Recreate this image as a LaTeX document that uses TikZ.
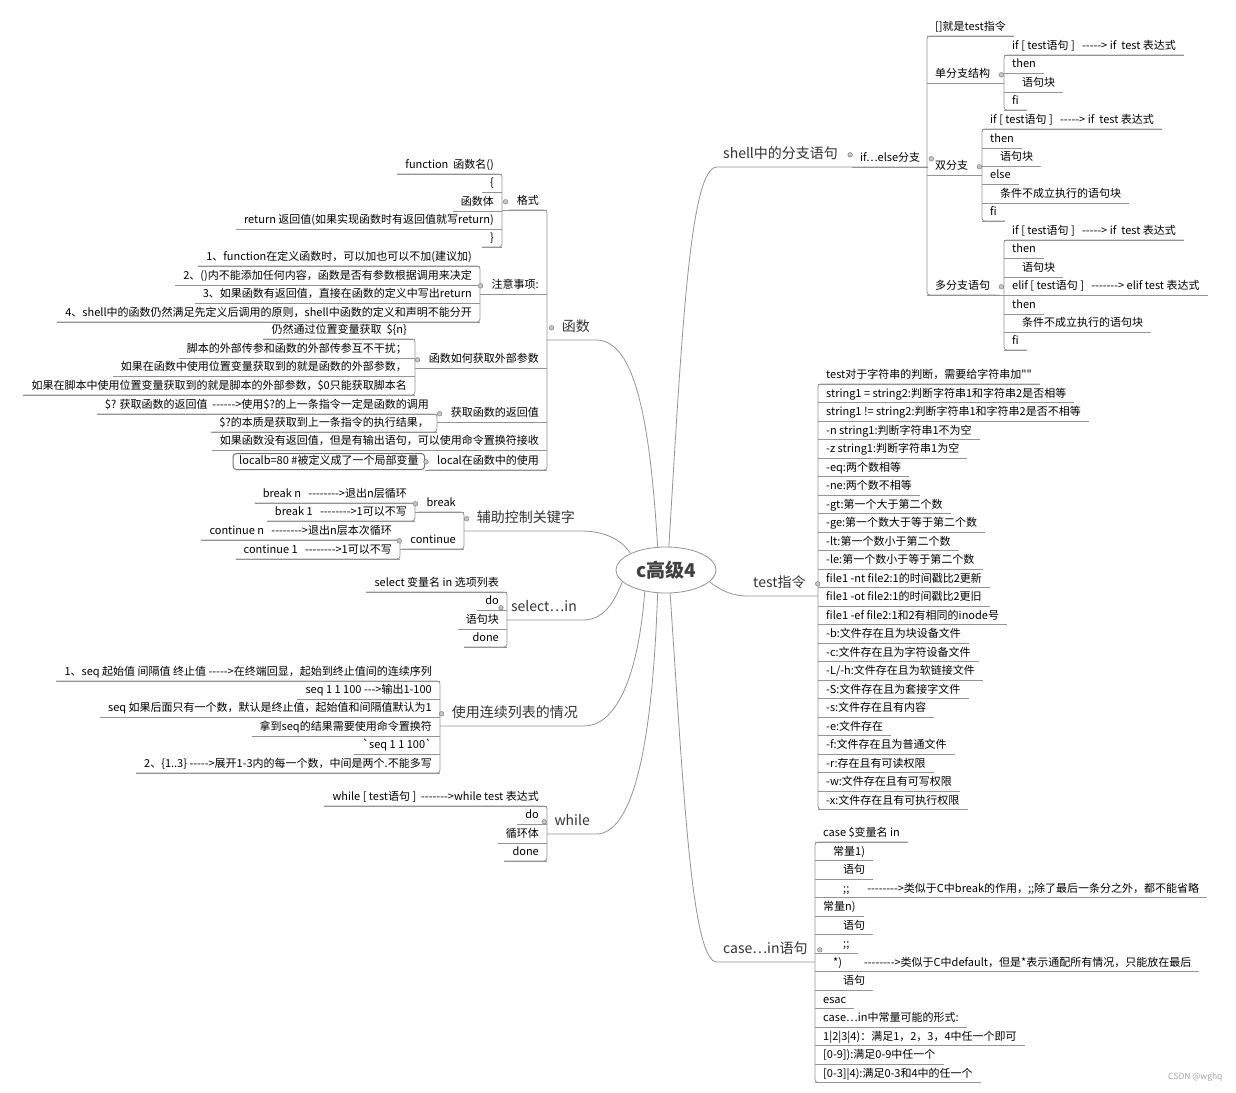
\documentclass[tikz,border=0pt]{standalone}
\usepackage{fontspec}
\newfontfamily\cnfont{Noto Sans CJK SC}
\usetikzlibrary{shapes.geometric}
\newcommand\leaffont{\cnfont\fontsize{11}{12.5}\selectfont}
\newcommand\topicfont{\cnfont\fontsize{14}{16}\selectfont}
\newcommand\rootfont{\cnfont\bfseries\fontsize{19}{22}\selectfont}
\newcommand\indA{\hspace*{10pt}}
\newcommand\indB{\hspace*{20pt}}
\tikzset{
  branch/.style={draw=black!42, line width=0.8pt},
  bracket/.style={branch, rounded corners=3pt},
  knob/.style={fill=black!22, draw=black!50, line width=0.5pt},
  leafR/.style={anchor=south west, font=\leaffont, inner xsep=8pt, inner ysep=2.5pt,
    text height=8.5pt, text depth=2.5pt,
    append after command={(\tikzlastnode.south west) edge[branch] (\tikzlastnode.south east)}},
  leafL/.style={leafR, anchor=south east},
  topicR/.style={anchor=south west, font=\topicfont, text=black!80, inner xsep=6pt, inner ysep=5pt,
    text height=11pt, text depth=3pt},
  topicL/.style={topicR, anchor=south east},
  rootnode/.style={ellipse, draw=black!42, line width=0.8pt, fill=white, inner sep=0pt,
    minimum width=100pt, minimum height=46pt, font=\rootfont, text=black!75},
  codebox/.style={anchor=south east, font=\leaffont, draw=black!55, line width=1pt,
    rounded corners=3pt, inner xsep=6pt, inner ysep=2.5pt, text height=8.5pt, text depth=2.5pt},
}
\begin{document}
\begin{tikzpicture}[x=1pt, y=-1pt]
  \useasboundingbox[fill=white] (0,0) rectangle (1236,1092);
  \node[rootnode] (root) at (666,570) {c高级4};

  \node[topicR] (shell) at (717,167) {shell中的分支语句};
  \node[leafR] (ifelse) at (852,167) {if…else分支};
  \node[leafR] (c1) at (927,36) {[]就是test指令};
  \node[leafR] (c2) at (927,83) {单分支结构};
  \node[leafR] (c3) at (927,175) {双分支};
  \node[leafR] (c4) at (927,295) {多分支语句};
  \node[leafR] (d1) at (1004,55) {if [ test语句 ]\ \ \ -----> if\ \ test 表达式};
  \node[leafR] (d2) at (1004,73) {then};
  \node[leafR] (d3) at (1004,92) {\indA 语句块};
  \node[leafR] (d4) at (1004,110) {fi};
  \node[leafR] (e1) at (982,129) {if [ test语句 ]\ \ \ -----> if\ \ test 表达式};
  \node[leafR] (e2) at (982,148) {then};
  \node[leafR] (e3) at (982,166) {\indA 语句块};
  \node[leafR] (e4) at (982,184) {else};
  \node[leafR] (e5) at (982,203) {\indA 条件不成立执行的语句块};
  \node[leafR] (e6) at (982,221) {fi};
  \node[leafR] (g1) at (1004,240) {if [ test语句 ]\ \ \ -----> if\ \ test 表达式};
  \node[leafR] (g2) at (1004,258) {then};
  \node[leafR] (g3) at (1004,277) {\indA 语句块};
  \node[leafR] (g4) at (1004,295) {elif [ test语句 ]\ \ \ -------> elif test 表达式};
  \node[leafR] (g5) at (1004,314) {then};
  \node[leafR] (g6) at (1004,332) {\indA 条件不成立执行的语句块};
  \node[leafR] (g7) at (1004,350) {fi};
  \draw[branch] (root.83) .. controls (682,330) and (690,167) .. (shell.south west)
    -- (ifelse.south east) -- (ifelse.south east -| c1.south west);
  \draw[bracket] (c1.south east) -- (c1.south west) -- (c4.south west) -- (c4.south east);
  \draw[branch] (c2.south east) -- (c2.south east -| d1.south west);
  \draw[branch] (c3.south east) -- (c3.south east -| e1.south west);
  \draw[branch] (c4.south east) -- (c4.south east -| g1.south west);
  \draw[bracket] (d1.south east) -- (d1.south west) -- (d4.south west) -- (d4.south east);
  \draw[bracket] (e1.south east) -- (e1.south west) -- (e6.south west) -- (e6.south east);
  \draw[bracket] (g1.south east) -- (g1.south west) -- (g7.south west) -- (g7.south east);
  \filldraw[knob] ([xshift=6pt]shell.east) circle (2.3pt);
  \filldraw[knob] ([xshift=3pt]ifelse.east) circle (2.3pt);
  \filldraw[knob] ([xshift=3pt]c2.east) circle (2.3pt);
  \filldraw[knob] ([xshift=3pt]c3.east) circle (2.3pt);
  \filldraw[knob] ([xshift=3pt]c4.east) circle (2.3pt);

  \node[topicR] (test) at (747,596) {test指令};
  \node[leafR] (t1) at (818,384) {test对于字符串的判断，需要给字符串加""};
  \node[leafR] (t2) at (818,402.5) {string1 = string2:判断字符串1和字符串2是否相等};
  \node[leafR] (t3) at (818,421) {string1 != string2:判断字符串1和字符串2是否不相等};
  \node[leafR] (t4) at (818,439.5) {-n string1:判断字符串1不为空};
  \node[leafR] (t5) at (818,458) {-z string1:判断字符串1为空};
  \node[leafR] (t6) at (818,476.5) {-eq:两个数相等};
  \node[leafR] (t7) at (818,495) {-ne:两个数不相等};
  \node[leafR] (t8) at (818,513.5) {-gt:第一个大于第二个数};
  \node[leafR] (t9) at (818,532) {-ge:第一个数大于等于第二个数};
  \node[leafR] (t10) at (818,550.5) {-lt:第一个数小于第二个数};
  \node[leafR] (t11) at (818,569) {-le:第一个数小于等于第二个数};
  \node[leafR] (t12) at (818,587.5) {file1 -nt file2:1的时间戳比2更新};
  \node[leafR] (t13) at (818,606) {file1 -ot file2:1的时间戳比2更旧};
  \node[leafR] (t14) at (818,624.5) {file1 -ef file2:1和2有相同的inode号};
  \node[leafR] (t15) at (818,643) {-b:文件存在且为块设备文件};
  \node[leafR] (t16) at (818,661.5) {-c:文件存在且为字符设备文件};
  \node[leafR] (t17) at (818,680) {-L/-h:文件存在且为软链接文件};
  \node[leafR] (t18) at (818,698.5) {-S:文件存在且为套接字文件};
  \node[leafR] (t19) at (818,717) {-s:文件存在且有内容};
  \node[leafR] (t20) at (818,735.5) {-e:文件存在};
  \node[leafR] (t21) at (818,754) {-f:文件存在且为普通文件};
  \node[leafR] (t22) at (818,772.5) {-r:存在且有可读权限};
  \node[leafR] (t23) at (818,791) {-w:文件存在且有可写权限};
  \node[leafR] (t24) at (818,809.5) {-x:文件存在且有可执行权限};
  \draw[branch] (root.345) .. controls (722,592) and (735,596) .. (test.south west)
    -- (test.south west -| t1.south west);
  \draw[bracket] (t1.south east) -- (t1.south west) -- (t24.south west) -- (t24.south east);
  \filldraw[knob] ([xshift=6pt]test.east) circle (2.3pt);

  \node[topicR] (case) at (717,962) {case…in语句};
  \node[leafR] (k1) at (815,842) {case \$变量名 in};
  \node[leafR] (k2) at (815,860.5) {\indA 常量1)};
  \node[leafR] (k3) at (815,879) {\indB 语句};
  \node[leafR] (k4) at (815,897.5) {\indB ;;\hspace{18pt}-------->类似于C中break的作用，;;除了最后一条分之外，都不能省略};
  \node[leafR] (k5) at (815,916) {常量n)};
  \node[leafR] (k6) at (815,934.5) {\indB 语句};
  \node[leafR] (k7) at (815,953) {\indB ;;};
  \node[leafR] (k8) at (815,971.5) {\indA *)\hspace{22pt}-------->类似于C中default，但是*表示通配所有情况，只能放在最后};
  \node[leafR] (k9) at (815,990) {\indB 语句};
  \node[leafR] (k10) at (815,1008.5) {esac};
  \node[leafR] (k11) at (815,1027) {case…in中常量可能的形式:};
  \node[leafR] (k12) at (815,1045.5) {1|2|3|4)：满足1，2，3，4中任一个即可};
  \node[leafR] (k13) at (815,1064) {[0-9]):满足0-9中任一个};
  \node[leafR] (k14) at (815,1082.5) {[0-3]|4):满足0-3和4中的任一个};
  \draw[branch] (root.280) .. controls (684,800) and (692,962) .. (case.south west)
    -- (case.south west -| k1.south west);
  \draw[bracket] (k1.south east) -- (k1.south west) -- (k14.south west) -- (k14.south east);
  \filldraw[knob] ([xshift=6pt]case.east) circle (2.3pt);

  \node[topicL] (func) at (596,340) {函数};
  \node[leafL] (h1) at (547,210) {格式};
  \node[leafL] (h2) at (547,294) {注意事项:};
  \node[leafL] (h3) at (547,368) {函数如何获取外部参数};
  \node[leafL] (h4) at (547,422) {获取函数的返回值};
  \node[leafL] (h5) at (547,450) {如果函数没有返回值，但是有输出语句，可以使用命令置换符接收};
  \node[leafL] (h6) at (547,470) {local在函数中的使用};
  \node[leafL] (f1) at (502,174) {function\ \ 函数名()};
  \node[leafL] (f2) at (502,192) {\{};
  \node[leafL] (f3) at (502,211) {函数体};
  \node[leafL] (f4) at (502,229) {return 返回值(如果实现函数时有返回值就写return)};
  \node[leafL] (f5) at (502,247) {\}};
  \node[leafL] (n1) at (480,266) {1、function在定义函数时，可以加也可以不加(建议加)};
  \node[leafL] (n2) at (480,285) {2、()内不能添加任何内容，函数是否有参数根据调用来决定};
  \node[leafL] (n3) at (480,303) {3、如果函数有返回值，直接在函数的定义中写出return};
  \node[leafL] (n4) at (480,322) {4、shell中的函数仍然满足先定义后调用的原则，shell中函数的定义和声明不能分开};
  \node[leafL] (p1) at (415,339) {仍然通过位置变量获取\ \ \$\{n\}};
  \node[leafL] (p2) at (415,358) {脚本的外部传参和函数的外部传参互不干扰；};
  \node[leafL] (p3) at (415,376) {如果在函数中使用位置变量获取到的就是函数的外部参数，};
  \node[leafL] (p4) at (415,395) {如果在脚本中使用位置变量获取到的就是脚本的外部参数，\$0只能获取脚本名};
  \node[leafL] (r1) at (437,414) {\$? 获取函数的返回值\ \ ------>使用\$?的上一条指令一定是函数的调用};
  \node[leafL] (r2) at (437,432) {\$?的本质是获取到上一条指令的执行结果，};
  \node[codebox] (box) at (425,470) {localb=80 \#被定义成了一个局部变量};
  \draw[branch] (root.110) .. controls (650,420) and (635,340) .. (func.south east)
    -- (func.south east -| h1.south east);
  \draw[bracket] (h1.south west) -- (h1.south east) -- (h6.south east) -- (h6.south west);
  \draw[branch] (h1.south west) -- (h1.south west -| f1.south east);
  \draw[branch] (h2.south west) -- (h2.south west -| n1.south east);
  \draw[branch] (h3.south west) -- (h3.south west -| p1.south east);
  \draw[branch] (h4.south west) -- (h4.south west -| r1.south east);
  \draw[branch] (h6.south west) -- (box.south east);
  \draw[bracket] (f1.south west) -- (f1.south east) -- (f5.south east) -- (f5.south west);
  \draw[bracket] (n1.south west) -- (n1.south east) -- (n4.south east) -- (n4.south west);
  \draw[bracket] (p1.south west) -- (p1.south east) -- (p4.south east) -- (p4.south west);
  \draw[bracket] (r1.south west) -- (r1.south east) -- (r2.south east) -- (r2.south west);
  \filldraw[knob] ([xshift=-4pt]func.west) circle (2.3pt);
  \filldraw[knob] ([xshift=-3pt]h1.west) circle (2.3pt);
  \filldraw[knob] ([xshift=-3pt]h2.west) circle (2.3pt);
  \filldraw[knob] ([xshift=-3pt]h3.west) circle (2.3pt);
  \filldraw[knob] ([xshift=-3pt]h4.west) circle (2.3pt);
  \filldraw[knob] ([xshift=-3pt]h6.west) circle (2.3pt);

  \node[topicL] (aux) at (581,531) {辅助控制关键字};
  \node[leafL] (brk) at (464,512) {break};
  \node[leafL] (cnt) at (464,549) {continue};
  \node[leafL] (brk1) at (415,503) {break n\ \ \ -------->退出n层循环};
  \node[leafL] (brk2) at (415,521) {break 1\ \ \ -------->1可以不写};
  \node[leafL] (cnt1) at (400,540) {continue n\ \ \ -------->退出n层本次循环};
  \node[leafL] (cnt2) at (400,559) {continue 1\ \ \ -------->1可以不写};
  \draw[branch] (root.155) .. controls (622,540) and (605,531) .. (aux.south east)
    -- (aux.south east -| brk.south east);
  \draw[bracket] (brk.south west) -- (brk.south east) -- (cnt.south east) -- (cnt.south west);
  \draw[branch] (brk.south west) -- (brk.south west -| brk1.south east);
  \draw[branch] (cnt.south west) -- (cnt.south west -| cnt1.south east);
  \draw[bracket] (brk1.south west) -- (brk1.south east) -- (brk2.south east) -- (brk2.south west);
  \draw[bracket] (cnt1.south west) -- (cnt1.south east) -- (cnt2.south east) -- (cnt2.south west);
  \filldraw[knob] ([xshift=-4pt]aux.west) circle (2.3pt);
  \filldraw[knob] ([xshift=-3pt]brk.west) circle (2.3pt);
  \filldraw[knob] ([xshift=-3pt]cnt.west) circle (2.3pt);

  \node[topicL] (sel) at (583,620) {select…in};
  \node[leafL] (s1) at (507,592) {select 变量名 in 选项列表};
  \node[leafL] (s2) at (507,610) {do};
  \node[leafL] (s3) at (507,629) {语句块};
  \node[leafL] (s4) at (507,647) {done};
  \draw[branch] (root.195) .. controls (615,600) and (605,620) .. (sel.south east)
    -- (sel.south east -| s1.south east);
  \draw[bracket] (s1.south west) -- (s1.south east) -- (s4.south east) -- (s4.south west);
  \filldraw[knob] ([xshift=-4pt]sel.west) circle (2.3pt);

  \node[topicL] (seq) at (584,726) {使用连续列表的情况};
  \node[leafL] (q1) at (440,681) {1、seq 起始值 间隔值 终止值 ----->在终端回显，起始到终止值间的连续序列};
  \node[leafL] (q2) at (440,699) {seq 1 1 100 --->输出1-100};
  \node[leafL] (q3) at (440,717) {seq 如果后面只有一个数，默认是终止值，起始值和间隔值默认为1};
  \node[leafL] (q4) at (440,736) {拿到seq的结果需要使用命令置换符};
  \node[leafL] (q5) at (440,754) {`seq 1 1 100`};
  \node[leafL] (q6) at (440,773) {2、\{1..3\} ----->展开1-3内的每一个数，中间是两个.不能多写};
  \draw[branch] (root.225) .. controls (638,680) and (615,726) .. (seq.south east)
    -- (seq.south east -| q1.south east);
  \draw[bracket] (q1.south west) -- (q1.south east) -- (q6.south east) -- (q6.south west);
  \filldraw[knob] ([xshift=-4pt]seq.west) circle (2.3pt);

  \node[topicL] (loop) at (596,834) {while};
  \node[leafL] (w1) at (547,806) {while [ test语句 ]\ \ ------->while test 表达式};
  \node[leafL] (w2) at (547,824) {do};
  \node[leafL] (w3) at (547,843) {循环体};
  \node[leafL] (w4) at (547,861) {done};
  \draw[branch] (root.250) .. controls (652,760) and (630,834) .. (loop.south east)
    -- (loop.south east -| w1.south east);
  \draw[bracket] (w1.south west) -- (w1.south east) -- (w4.south east) -- (w4.south west);
  \filldraw[knob] ([xshift=-4pt]loop.west) circle (2.3pt);

  \node[font=\cnfont\fontsize{8.5}{10}\selectfont, text=black!35, anchor=east] (mark) at (1226,1077) {CSDN @wghq};
\end{tikzpicture}
\end{document}
